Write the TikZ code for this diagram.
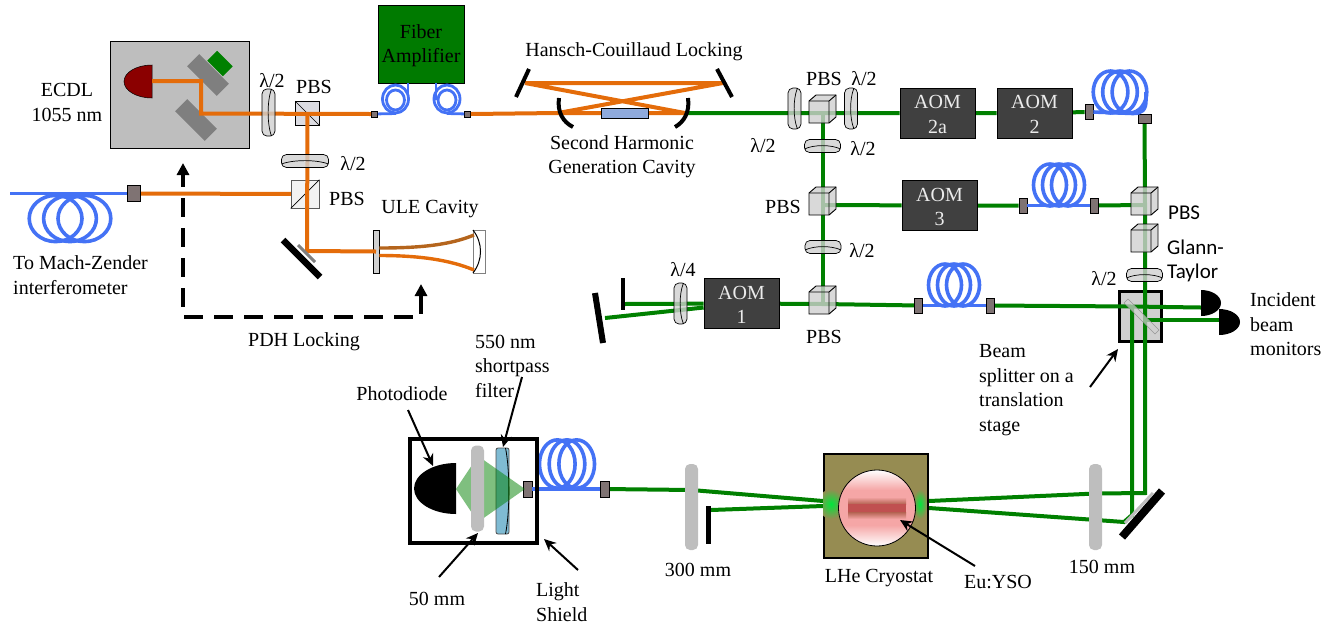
\documentclass[tikz,border=0pt]{standalone}
\usepackage{fontspec}
\setmainfont{Liberation Serif}
\newfontfamily\calibrifont{Carlito}
\usepackage{xcolor}
\usetikzlibrary{arrows.meta,backgrounds}
\definecolor{ink}       {HTML}{000000}
\definecolor{pumporange}{HTML}{E46C0A}
\definecolor{cavbrown}  {HTML}{B5651D}
\definecolor{beamgreen} {HTML}{008000}
\definecolor{glowgreen} {HTML}{00E63C}
\definecolor{fiberblue} {HTML}{4472F5}
\definecolor{aomgray}   {HTML}{404040}
\definecolor{portgray}  {HTML}{7F7373}
\definecolor{ecdlgray}  {HTML}{BEBEBE}
\definecolor{gratgray}  {HTML}{7F7F7F}
\definecolor{opticgray} {HTML}{D0D0D0}
\definecolor{diodered}  {HTML}{8B0000}
\definecolor{crystalblue}{HTML}{8FAADC}
\definecolor{filterblue}{HTML}{7FBBD3}
\definecolor{cryoolive} {HTML}{968C52}
\definecolor{samplepink}{HTML}{F5A6A6}
\definecolor{samplered} {HTML}{C05050}
\tikzset{
  lbl/.style       ={font=\fontsize{20}{24.5}\selectfont, inner sep=0pt, align=center, yshift=-1.5pt},
  lblleft/.style   ={font=\fontsize{20}{24.5}\selectfont, inner sep=0pt, align=left, anchor=west, yshift=-1.5pt},
  aomlbl/.style    ={lbl, text=white!92!black},
  callbl/.style    ={font=\calibrifont\fontsize{21}{24}\selectfont, inner sep=0pt, align=left, anchor=west},
  aombox/.style    ={draw=ink, fill=aomgray, line width=0.8pt, minimum width=75pt, minimum height=50pt, inner sep=0pt},
  fiberport/.style ={draw=ink, fill=portgray, line width=0.6pt, minimum width=8pt, minimum height=15pt, inner sep=0pt},
  orangearr/.style ={line width=4pt, color=pumporange},
  greenarr/.style  ={line width=4pt, color=beamgreen},
  fiberline/.style ={line width=3.6pt, color=fiberblue},
  mirrorline/.style={line width=6.5pt, color=ink},
  lensbox/.style   ={fill=ecdlgray, rounded corners=5pt, minimum width=13pt, minimum height=86pt, inner sep=0pt},
  flatpbs/.style   ={draw=ink, line width=0.7pt, minimum width=24pt, minimum height=24pt, inner sep=0pt},
  gratbox/.style   ={fill=gratgray, minimum width=42pt, minimum height=17pt, inner sep=0pt},
  ptrarr/.style    ={-{Stealth[length=12pt,width=11pt]}, line width=2pt},
  pdharr/.style    ={{Triangle[length=12pt,width=12pt]}-{Triangle[length=12pt,width=12pt]},
                     line width=3.6pt, dash pattern=on 19pt off 11pt},
  cubepbs/.pic={
    \coordinate (-c) at (0,0);
    \draw[line width=0.9pt,fill=opticgray,fill opacity=0.8] (-14,-12) -- (-7,-18) -- (13,-18) -- (13,4) -- (6,10) -- (-14,10) -- cycle;
    \draw[line width=0.9pt] (-14,-12) -- (6,-12) -- (6,10) (6,-12) -- (13,-18);
  },
  waveplate/.pic={
    \draw[line width=0.7pt,fill=opticgray,fill opacity=0.8,rounded corners=5pt] (-6.5,-20.5) rectangle (6.5,20.5);
    \draw[line width=0.7pt] (3,-20.5) .. controls (-1.5,-10) and (-1.5,10) .. (3,20.5);
  },
  coil/.pic={
    \foreach \cx in {-9,0,9}
      \draw[fiberline] (\cx,0) ellipse (16.5 and 21);
  },
  halfdiode/.pic={
    \path[pic actions] (0,-1) arc[start angle=-90,delta angle=180,x radius=1,y radius=1] -- cycle;
  },
}
\begin{document}
\begin{tikzpicture}[x=1pt,y=-1pt]
  \useasboundingbox (0,0) rectangle (1336,625);
  \begin{pgfonlayer}{background}
    \node[draw=ink,fill=ecdlgray,line width=0.8pt,minimum width=139pt,minimum height=107pt,inner sep=0pt] (ecdl) at (180,94.5) {};
    \node[gratbox,rotate=-45] (grata) at (208,75) {};
    \node[gratbox,rotate=-45] (gratb) at (196,120) {};
    \node[fill=beamgreen,minimum width=22pt,minimum height=14pt,inner sep=0pt,rotate=-45] (gratc) at (220,63.5) {};
    \node[draw=ink,fill=opticgray,line width=3.6pt,minimum width=42pt,minimum height=50pt,inner sep=0pt] (stage) at (1140.5,316.5) {};
  \end{pgfonlayer}
  \pic[fill=diodered,draw=ink,line width=0.5pt,xscale=-28,yscale=16.5] (ecdldiode) at (152,81.5) {halfdiode};
  \coordinate (ecdlout) at (152,81);
  \coordinate (ecdlturn) at (201,81);
  \coordinate (ecdlfold) at (201,113.5);
  \node[lbl] (ecdllbl) at (67,101) {ECDL\\1055 nm};

  \node[flatpbs,fill=blue!10!gray!25] (pbsa) at (307.5,113.5) {};
  \draw[line width=0.7pt] (pbsa.north west) -- (pbsa.south east);
  \node[flatpbs,fill=gray!10,draw=gray!70!black,minimum width=28pt,minimum height=28pt] (pbsb) at (305,194) {};
  \draw[line width=0.7pt] (pbsb.south west) -- (pbsb.north east);
  \node[lbl] (pbsalbl) at (314,85) {PBS};
  \node[lbl] (pbsblbl) at (347,197) {PBS};
  \node[lbl] (hwalbl) at (272,79) {λ/2};
  \node[lbl] (hwblbl) at (353,162) {λ/2};

  \node[fiberport,minimum width=6pt,minimum height=6pt] (porta) at (374.5,114) {};
  \node[fiberport,minimum width=6pt,minimum height=6pt] (portb) at (467.5,114) {};
  \node[draw=ink,fill=beamgreen!95!black,line width=0.8pt,minimum width=86pt,minimum height=78pt,inner sep=0pt] (amp) at (421,44) {};
  \node[lbl] (amplbl) at (amp) {Fiber\\Amplifier};
  \foreach \cx/\sx in {395.5/408,447/436} {
    \draw[fiberline,line width=2.8pt] (\cx,99) ellipse (13 and 14);
    \draw[fiberline,line width=2.8pt] (\cx,100) ellipse (9 and 10);
    \draw[fiberline,line width=2.8pt] (\sx,83) -- (\sx,100);
  }
  \draw[fiberline,line width=2.8pt] (porta) -- (396,113.5);
  \draw[fiberline,line width=2.8pt] (447,113.5) -- (portb);

  \draw[orangearr] (ecdlout) -- (ecdlturn) -- (ecdlfold) -- (porta.west);
  \node[fiberport,minimum width=13pt,minimum height=16pt] (mzport) at (133.5,193.5) {};
  \draw[fiberline] (10,193.5) -- (mzport.west);
  \pic[xscale=1.6,yscale=1.1] (mzcoil) at (70,218.5) {coil};
  \begin{pgfonlayer}{background}
    \draw[orangearr] (mzport.east) -- (pbsb.center);
  \end{pgfonlayer}
  \node[lblleft] (mzlbl) at (13,273.5) {To Mach-Zender\\interferometer};
  \coordinate (ulefold) at (307,251);
  \node[draw=ink,fill=opticgray,line width=0.7pt,minimum width=6pt,minimum height=43pt,inner sep=0pt] (ulein) at (376,251.5) {};
  \node[draw=gray,fill=white,line width=0.7pt,minimum width=12pt,minimum height=43pt,inner sep=0pt] (uleout) at (479,251.5) {};
  \draw[orangearr] (pbsa.center) -- (ulefold) -- (ulein.center);
  \draw[line width=3.4pt,color=cavbrown] (ulein.east |- 0,248) .. controls (420,248) and (450,245) .. (474,235);
  \draw[orangearr,line width=3.4pt] (ulein.east |- 0,255.5) .. controls (420,255.5) and (450,260) .. (474,270);
  \draw[line width=1pt] (473,230) .. controls (483,243) and (483,260) .. (473,273);
  \draw[mirrorline] (283,240) -- (320,277);
  \draw[line width=3pt,color=gratgray] (298,245) -- (315,262);
  \node[lbl] (ulelbl) at (430,208) {ULE Cavity};
  \pic[yscale=1.15] (hwa) at (268.5,112.5) {waveplate};
  \pic[rotate=-90,yscale=1.15] (hwb) at (305,161) {waveplate};
  \coordinate (ulenote) at (421,284);
  \coordinate (ecdlnote) at (183,163);
  \draw[pdharr] (ulenote) -- (421,317) -- (183,317) -- (ecdlnote);
  \node[lbl] (pdhlbl) at (304,340) {PDH Locking};

  \coordinate (bowtl) at (525,83);
  \coordinate (bowtr) at (723,83);
  \coordinate (bowbl) at (558,113);
  \coordinate (bowbr) at (685,113);
  \draw[orangearr] (portb.east) -- (bowbl) -- (bowbr) -- (bowtl) -- (bowtr) -- (bowbl);
  \node[draw=ink,fill=crystalblue,line width=0.7pt,minimum width=47pt,minimum height=10pt,inner sep=0pt] (shgxtal) at (624.5,113) {};
  \draw[line width=4pt] (529,69) -- (516,97) (717,69) -- (732,97);
  \draw[line width=4pt] (559,98) .. controls (557,112) and (563,122) .. (573,127);
  \draw[line width=4pt] (688,98) .. controls (690,112) and (684,122) .. (675,127);
  \node[lbl] (hanschlbl) at (634,50) {Hansch-Couillaud Locking};
  \node[lbl] (shglbl) at (622,155) {Second Harmonic\\Generation Cavity};

  \node[aombox] (aomtwoa) at (937.5,113) {};
  \node[aombox] (aomtwo) at (1034.5,113) {};
  \node[aombox] (aomthree) at (939.5,205.5) {};
  \node[aombox] (aomone) at (741.5,303.5) {};
  \node[aomlbl] (aomtwoalbl) at (aomtwoa) {AOM\\2a};
  \node[aomlbl] (aomtwolbl) at (aomtwo) {AOM\\2};
  \node[aomlbl] (aomthreelbl) at (aomthree) {AOM\\3};
  \node[aomlbl] (aomonelbl) at (aomone) {AOM\\1};
  \node[fiberport] (portc) at (1089,112) {};
  \node[fiberport,minimum width=13pt,minimum height=9pt] (portd) at (1144.5,118.5) {};
  \node[fiberport] (porte) at (1023,205.5) {};
  \node[fiberport] (portf) at (1094.5,205.5) {};
  \node[fiberport] (portg) at (918.5,305.5) {};
  \node[fiberport] (porth) at (990,305.5) {};
  \node[fiberport,minimum width=9pt,minimum height=16pt] (porti) at (527.5,489) {};
  \node[fiberport,minimum width=9pt,minimum height=16pt] (portj) at (605,489) {};
  \pic[xscale=1.05] (coila) at (1120,92) {coil};
  \pic (coilb) at (1059,185) {coil};
  \pic (coilc) at (954,285) {coil};
  \pic[xscale=1.08,yscale=1.15] (coild) at (567,464) {coil};
  \draw[fiberline] (portc.east) -- (1133,113.5) .. controls (1142,113.5) and (1146,110) .. (1146,100) -- (1146,92);
  \draw[fiberline] (porte.east) -- (portf.west);
  \draw[fiberline] (portg.east) -- (porth.west);
  \draw[fiberline] (porti.east) -- (portj.west);

  \pic (pbsc) at (823,113) {cubepbs};
  \pic (pbsd) at (823,205) {cubepbs};
  \pic (pbse) at (823,304) {cubepbs};
  \pic (pbsf) at (1145,205) {cubepbs};
  \pic (glann) at (1145,242) {cubepbs};
  \pic (hwc) at (794.5,108.5) {waveplate};
  \pic (hwd) at (851,108.5) {waveplate};
  \pic[rotate=-90,yscale=0.88] (hwe) at (822.5,146) {waveplate};
  \pic[rotate=-90,yscale=0.88] (hwf) at (823,247) {waveplate};
  \pic[rotate=-90,yscale=0.88] (hwg) at (1144.5,275) {waveplate};
  \pic (qwa) at (680.5,303.5) {waveplate};
  \node[lbl] (pbsclbl) at (824,77) {PBS};
  \node[lbl] (hwdlbl) at (864,77) {λ/2};
  \node[lbl] (hwclbl) at (763,144) {λ/2};
  \node[lbl] (hwelbl) at (863,147) {λ/2};
  \node[lbl] (pbsdlbl) at (783,205) {PBS};
  \node[lbl] (hwflbl) at (862,249) {λ/2};
  \node[lbl] (pbselbl) at (824,335) {PBS};
  \node[lbl] (qwalbl) at (683,268) {λ/4};
  \node[lbl] (hwglbl) at (1104,277) {λ/2};
  \node[callbl] (pbsflbl) at (1168,213) {PBS};
  \node[callbl] (glannlbl) at (1167,261) {Glann-\\Taylor};

  \pic[fill=ink,xscale=20,yscale=13] (monitora) at (1201,303) {halfdiode};
  \pic[fill=ink,xscale=21,yscale=13] (monitorb) at (1219,322) {halfdiode};
  \coordinate (splitt) at (1132,306.5);
  \coordinate (splitr) at (1145,320);
  \coordinate (monina) at (1201,307.5);
  \coordinate (moninb) at (1219,320);
  \node[lblleft] (monlbl) at (1250,323) {Incident\\beam\\monitors};
  \node[lblleft] (bslbl) at (979,388.5) {Beam\\splitter on a\\translation\\stage};
  \coordinate (bsptr) at (1090,387);
  \coordinate (bstip) at (1118,349);
  \draw[ptrarr] (bsptr) -- (bstip);
  \draw[line width=0.6pt,draw=gray,fill=opticgray,opacity=0.7] (1124,303) -- (1128,299) -- (1159,330) -- (1155,334) -- cycle;

  \node[draw=ink,line width=4pt,minimum width=127pt,minimum height=104pt,inner sep=0pt] (shield) at (473.5,491) {};
  \pic[fill=ink,xscale=-42,yscale=25.5] (pdiode) at (456,488.5) {halfdiode};
  \node[draw=ink!70,fill=filterblue,line width=0.8pt,minimum width=13pt,minimum height=86pt,inner sep=0pt,rounded corners=2pt] (filt) at (502.5,491) {};
  \draw[line width=0.8pt] (505.5,448) .. controls (510,470) and (510,512) .. (505.5,534);
  \fill[beamgreen,opacity=0.5] (456,489) -- (478,456) -- (525,489) -- (478,522) -- cycle;
  \node[lensbox] (lenspd) at (477.5,488.5) {};
  \node[lbl] (pdlbl) at (402,392) {Photodiode};
  \node[lblleft] (filtlbl) at (475,364.5) {550 nm\\shortpass\\filter};
  \node[lbl] (fiftylbl) at (437,597) {50 mm};
  \node[lblleft] (shieldlbl) at (536,600.5) {Light\\Shield};
  \draw[ptrarr] (408,410) -- (433,466);
  \draw[ptrarr] (522,377) -- (503,447);
  \draw[ptrarr] (439,577) -- (478,533);
  \draw[ptrarr] (578,570) -- (544,539);

  \node[draw=ink,fill=cryoolive,line width=2pt,minimum width=104pt,minimum height=104pt,inner sep=0pt] (cryo) at (876,506) {};
  \begin{scope}
    \clip (cryo.north west) rectangle (cryo.south east);
    \shade[inner color=glowgreen,outer color=cryoolive] (831,504) ellipse (13 and 15);
    \shade[inner color=glowgreen,outer color=cryoolive] (920,504) ellipse (7 and 15);
  \end{scope}
  \begin{scope}
    \clip (877,508) ellipse (38.5 and 38);
    \shade[top color=white,bottom color=samplepink] (838,470) rectangle (916,490);
    \fill[samplepink] (838,490) rectangle (916,525);
    \shade[top color=samplepink,bottom color=white] (838,525) rectangle (916,546);
    \shade[top color=samplepink,bottom color=samplered!70!cryoolive] (848,497) rectangle (906,504);
    \fill[samplered] (848,504) rectangle (906,512);
    \shade[top color=samplered!70!cryoolive,bottom color=samplepink] (848,512) rectangle (906,519);
  \end{scope}
  \draw[line width=0.8pt] (877,508) ellipse (38.5 and 38);
  \node[lensbox] (lensb) at (691.5,507) {};
  \node[lensbox] (lensc) at (1095.5,507) {};
  \coordinate (beamstop) at (711,510);
  \draw[line width=5pt] (708.5,506) -- (708.5,544);
  \draw[line width=4pt] (623,278) -- (623,310);
  \coordinate (retrotop) at (624,304);
  \coordinate (retrolow) at (605,318);
  \draw[line width=6pt] (595,293) -- (603,343);
  \draw[line width=8pt] (1122,537) -- (1162,491);
  \draw[line width=3pt,color=ecdlgray] (1125,523) -- (1153,493);
  \node[lbl] (threelbl) at (698,568) {300 mm};
  \node[lbl] (onelbl) at (1102,565) {150 mm};
  \node[lbl] (cryolbl) at (879,577) {LHe Cryostat};
  \node[lbl] (eulbl) at (998,581) {Eu:YSO};
  \draw[ptrarr] (975,566) -- (900,520);

  \begin{pgfonlayer}{background}
    \draw[greenarr] (bowbr) -- (pbsc-c) -- (aomtwoa) -- (aomtwo) -- (portc);
    \draw[greenarr] (pbsc-c) -- (pbsd-c) -- (pbse-c);
    \draw[greenarr] (pbsd-c) -- (aomthree) -- (porte);
    \draw[greenarr] (portf) -- (pbsf-c);
    \draw[greenarr] (portd) -- (pbsf-c) -- (glann-c) -- (1145,493) -- (lensc.center |- 0,493.5) -- (cryo.east |- 0,501);
    \draw[greenarr] (retrotop) -- (aomone) -- (pbse-c) -- (portg);
    \draw[greenarr] (retrolow) -- (aomone);
    \draw[greenarr] (porth) -- (splitt) -- (monina);
    \draw[greenarr] (splitt) -- (1132,515) -- (1124,522) -- (cryo.east |- 0,508);
    \draw[greenarr] (splitr) -- (moninb);
    \draw[greenarr] (portj) -- (lensb.center |- 0,490) -- (cryo.west |- 0,501);
    \draw[greenarr] (beamstop) -- (cryo.west |- 0,506);
  \end{pgfonlayer}
\end{tikzpicture}
\end{document}
